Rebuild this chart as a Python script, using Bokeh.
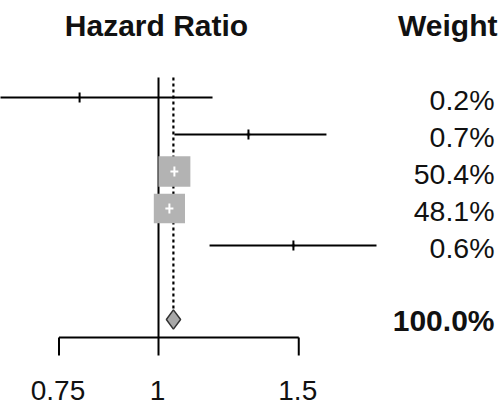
import math
from bokeh.plotting import figure
from bokeh.models import Range1d, ColumnDataSource
from bokeh.core.properties import value
from bokeh.embed import file_html
from bokeh.resources import INLINE

# ---- data ----
weight_labels = ["0.2%", "0.7%", "50.4%", "48.1%", "0.6%"]
weights = [0.2, 0.7, 50.4, 48.1, 0.6]
hazard_ratio = [0.796, 1.297, 1.047, 1.032, 1.477]
ci_lower = [0.60, 1.047, 1.035, 1.020, 1.159]
ci_upper = [1.169, 1.625, 1.059, 1.044, 1.878]
rows = [0, 1, 2, 3, 4]

summary_label = "100.0%"
summary_hr = 1.044
summary_lower = 1.023
summary_upper = 1.066
summary_row = 6

null_value = 1.0
tick_values = [0.75, 1, 1.5]
tick_labels = ["0.75", "1", "1.5"]
header_left = "Hazard Ratio"
header_right = "Weight"

# ---- layout ----
W, H = 504, 407
AXIS_PX = 337
TICK_PX = 355
LABEL_MID_PX = 390
X0 = 0.6333
PX_PER_LN = 345.9
ROW_PX = 37.0
ROW0_PX = 97.0


def px_to_x(px):
    return X0 * math.exp(px / PX_PER_LN)


def py_to_row(py):
    return (py - ROW0_PX) / ROW_PX


p = figure(frame_width=W, frame_height=H, x_axis_type="log",
           x_range=Range1d(X0, px_to_x(W)),
           y_range=Range1d(py_to_row(H), py_to_row(0)),
           output_backend="svg", toolbar_location=None, min_border=0)
p.outline_line_color = None
p.grid.visible = False
p.axis.visible = False

FONT = value("Liberation Sans")
INK = "#111111"

# reference line (null) and dotted summary line
p.segment(x0=[null_value], y0=[py_to_row(77)], x1=[null_value], y1=[py_to_row(AXIS_PX)],
          line_color="black", line_width=2)
p.segment(x0=[summary_hr], y0=[py_to_row(77)], x1=[summary_hr], y1=[summary_row - 0.3],
          line_color="black", line_width=2.2, line_dash="3 3")

# boxes
box_sizes = [4.5 * math.sqrt(w) for w in weights]
p.rect(x=hazard_ratio, y=rows, width=box_sizes, height=[s * 0.95 for s in box_sizes],
       width_units="screen", height_units="screen",
       fill_color="#b3b3b3", line_color=None)

line_cols = ["white" if w > 10 else "black" for w in weights]
src = ColumnDataSource(dict(lo=ci_lower, hi=ci_upper, hr=hazard_ratio, y=rows, c=line_cols))
p.segment(x0="lo", y0="y", x1="hi", y1="y", line_color="c", line_width=2, source=src)
p.scatter(x="hr", y="y", marker="dash", angle=math.pi / 2, size=10,
          line_color="c", line_width=2, source=src)

# summary diamond
h = 0.26
p.patch(x=[summary_lower, summary_hr, summary_upper, summary_hr],
        y=[summary_row, summary_row - h, summary_row, summary_row + h],
        fill_color="#a8a8a8", line_color="#333333", line_width=1.5)

# weight texts
p.text(x=[px_to_x(494)] * len(rows), y=rows, text=weight_labels,
       text_align="right", text_baseline="middle", y_offset=2,
       text_font=FONT, text_font_size="28.5px", text_color=INK)
p.text(x=[px_to_x(494)], y=[summary_row], text=[summary_label],
       text_align="right", text_baseline="middle", y_offset=1,
       text_font=FONT, text_font_size="30px", text_font_style="bold", text_color=INK)

# headers
p.text(x=[null_value], y=[py_to_row(25)], text=[header_left],
       text_align="center", text_baseline="middle", x_offset=-2,
       text_font=FONT, text_font_size="30px", text_font_style="bold", text_color=INK)
p.text(x=[px_to_x(497)], y=[py_to_row(25)], text=[header_right],
       text_align="right", text_baseline="middle",
       text_font=FONT, text_font_size="30px", text_font_style="bold", text_color=INK)

# x axis (log scale, drawn through the figure's scales)
axis_y = py_to_row(AXIS_PX)
tick_y = py_to_row(TICK_PX)
p.segment(x0=[tick_values[0]], x1=[tick_values[-1]], y0=[axis_y], y1=[axis_y],
          line_color="black", line_width=2)
p.segment(x0=tick_values, x1=tick_values, y0=[axis_y] * len(tick_values),
          y1=[tick_y] * len(tick_values), line_color="black", line_width=2)
p.text(x=tick_values, y=[py_to_row(LABEL_MID_PX)] * len(tick_values), text=tick_labels,
       text_align="center", text_baseline="middle", x_offset=-1,
       text_font=FONT, text_font_size="28px", text_color=INK)

open("out.html", "w").write(file_html(p, INLINE))
